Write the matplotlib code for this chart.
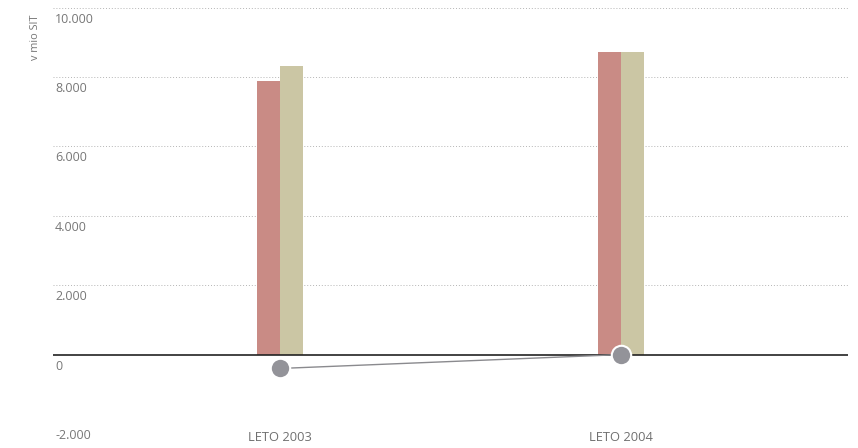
import matplotlib
matplotlib.use("Agg")
import matplotlib.pyplot as plt
import matplotlib.transforms as mtransforms
import numpy as np

categories = ["LETO 2003", "LETO 2004"]
series_a = [7880, 8720]
series_b = [8310, 8720]
line_vals = [-400, 0]
yticks = [-2000, 0, 2000, 4000, 6000, 8000, 10000]
ytick_labels = ["-2.000", "0", "2.000", "4.000", "6.000", "8.000", "10.000"]

plt.rcParams['font.family'] = ['Open Sans', 'DejaVu Sans']
W, H = 858, 448
fig = plt.figure(figsize=(W/100, H/100), dpi=100)
ax = fig.add_axes([53/W, 24/H, (848-53)/W, (440.5-24)/H])

x = np.arange(len(categories))
bw = 0.0675
ax.bar(x - bw/2, series_a, width=bw, color="#c98b85", zorder=2)
ax.bar(x + bw/2, series_b, width=bw, color="#cbc6a4", zorder=2)
ax.plot(x, line_vals, color="#8a8a8e", lw=1, zorder=4)
ax.plot(x, line_vals, 'o', ms=14, color="#939399", mec="white", mew=1.5, zorder=5, clip_on=False)

ax.set_xlim(-2/3, 5/3)
ax.set_ylim(-2000, 10000)
for v in yticks:
    if v == 0:
        ax.axhline(0, color="#222222", lw=1.2, zorder=3)
    else:
        ax.axhline(v, color="#b5b5b5", lw=0.7, ls=(0, (1, 2)), zorder=1)

off = mtransforms.offset_copy(ax.get_yaxis_transform(), fig=fig, x=2, y=-5, units='dots')
for v, lab in zip(yticks, ytick_labels):
    ax.text(0, v, lab, transform=off, ha='left', va='top', fontsize=9, color="#777777", clip_on=False)

ax.set_yticks([])
ax.set_xticks(x)
ax.set_xticklabels(categories, fontsize=9.3, color="#707070")
ax.tick_params(axis='x', length=0, pad=5)
for s in ax.spines.values():
    s.set_visible(False)

fig.text(35/W, 1 - 14/H, "v mio SIT", rotation=90, ha='center', va='top', fontsize=7.8, color="#777777")

fig.savefig("out.png", dpi=100)
